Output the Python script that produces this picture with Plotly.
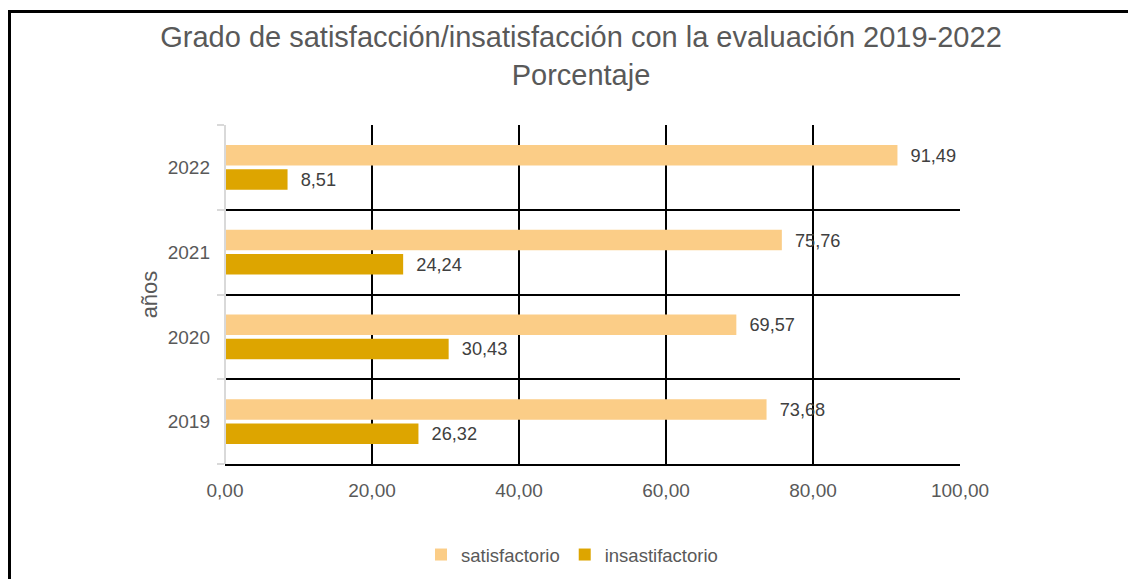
import plotly.graph_objects as go

years = ["2019", "2020", "2021", "2022"]
satisfactorio = [73.68, 69.57, 75.76, 91.49]
insatisfactorio = [26.32, 30.43, 24.24, 8.51]

title_text = "Grado de satisfacción/insatisfacción con la evaluación 2019-2022<br>Porcentaje"

FONT = "Liberation Sans, Arial, sans-serif"
LABEL = "#404040"
GRAY = "#595959"

fig = go.Figure()
fig.add_trace(go.Bar(
    y=years, x=insatisfactorio, orientation="h", name="insastifactorio",
    marker=dict(color="#DDA500", line=dict(width=0)),
    texttemplate="\u00a0\u00a0%{x:.2f}", textposition="outside",
    textfont=dict(size=19.5, color=LABEL, family=FONT), cliponaxis=False,
    legendrank=2,
))
fig.add_trace(go.Bar(
    y=years, x=satisfactorio, orientation="h", name="satisfactorio",
    marker=dict(color="#FBCD87", line=dict(width=0)),
    texttemplate="\u00a0\u00a0%{x:.2f}", textposition="outside",
    textfont=dict(size=19.5, color=LABEL, family=FONT), cliponaxis=False,
    legendrank=1,
))

L, R, T, B = 225, 168, 125, 115
W, H = 1128, 579
pw, ph = W - L - R, H - T - B

def px_to_paper_x(px):
    return (px - L) / pw

def px_to_paper_y(py):
    return (H - B - py) / ph

shapes = [
    dict(type="line", xref="paper", yref="paper",
         x0=px_to_paper_x(9.5), x1=px_to_paper_x(9.5),
         y0=px_to_paper_y(10), y1=px_to_paper_y(582),
         line=dict(color="black", width=3)),
    dict(type="line", xref="paper", yref="paper",
         x0=px_to_paper_x(8), x1=px_to_paper_x(1130),
         y0=px_to_paper_y(11.5), y1=px_to_paper_y(11.5),
         line=dict(color="black", width=3)),
]

fig.update_layout(
    width=W, height=H,
    margin=dict(l=L, r=R, t=T, b=B),
    paper_bgcolor="white", plot_bgcolor="white",
    separators=",.",
    barmode="group", bargap=0.43, bargroupgap=0.15,
    font=dict(family=FONT, color=GRAY, size=18),
    title=dict(text=title_text, xref="container", x=581 / W, xanchor="center",
               yref="container", y=1 - 47 / H, yanchor="top",
               font=dict(size=29, color=GRAY, family=FONT)),
    xaxis=dict(range=[0, 100], dtick=20, tickformat=".2f",
               showgrid=True, gridcolor="black", gridwidth=2,
               zeroline=True, zerolinecolor="#D9D9D9", zerolinewidth=2,
               showline=True, linecolor="black", linewidth=2,
               ticks="", tickfont=dict(size=19, color=GRAY),
               ticklabelstandoff=8,
               fixedrange=True),
    yaxis=dict(type="category", categoryorder="array", categoryarray=years,
               range=[-0.5, 3.5], tickson="boundaries",
               showgrid=True, gridcolor="black", gridwidth=2,
               showline=False,
               ticks="outside", ticklen=7, tickcolor="#D9D9D9", tickwidth=2,
               tickfont=dict(size=19, color=GRAY),
               ticklabelstandoff=14,
               title=dict(text="años", standoff=4, font=dict(size=22, color=GRAY)),
               fixedrange=True),
    legend=dict(orientation="h", xref="container", x=572 / W, xanchor="center",
                yref="container", y=1 - 555 / H, yanchor="middle",
                font=dict(size=18.5, color=GRAY), itemwidth=30,
                traceorder="normal"),
    shapes=shapes,
    showlegend=True,
)

# gray left axis line
fig.add_shape(type="line", xref="x", yref="paper", x0=0, x1=0, y0=0, y1=1,
              line=dict(color="#D9D9D9", width=2), layer="above")

fig.write_html("out.html", config={"displayModeBar": False},
               post_script="document.body.style.margin='0';document.body.style.padding='0';")
